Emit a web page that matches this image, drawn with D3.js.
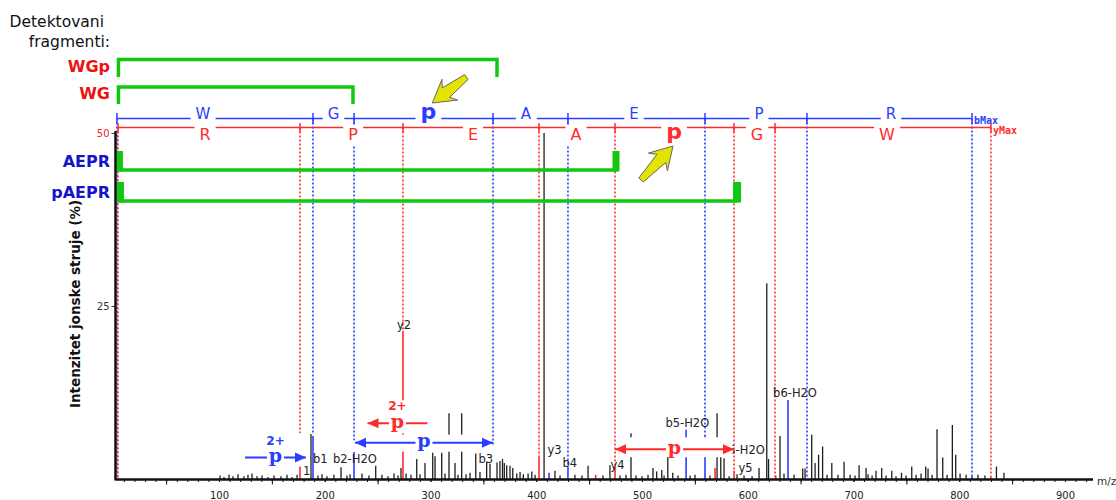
<!DOCTYPE html>
<html><head><meta charset="utf-8">
<script src="https://cdn.jsdelivr.net/npm/d3@7"></script>
<style>body{margin:0;background:#fff;}svg{display:block;}</style>
</head><body>
<svg id="chart" width="1116" height="500"></svg>
<script>
// ---------------- DATA ----------------
const xTickValues = [100,200,300,400,500,600,700,800,900];
const yTickValues = [25,50];
// [m/z, intensity %, ion type]  k = unassigned, b = b-ion, y = y-ion
const peaks = [
[101.0,0.5,'k'],[104.7,0.3,'k'],[109.5,0.6,'k'],[113.2,0.4,'k'],[118.0,0.7,'k'],[123.6,0.4,'k'],[127.4,0.6,'k'],[131.2,0.8,'k'],[135.9,0.4,'k'],[140.7,0.5,'k'],[146.3,0.3,'k'],[152.0,0.5,'k'],[158.6,0.4,'k'],[164.3,0.6,'k'],[169.0,0.3,'k'],[173.8,0.6,'k'],
[176.6,1.9,'y'],[187.0,6.5,'k'],[188.9,6.2,'b'],[193.6,0.5,'k'],[197.4,0.7,'k'],[202.1,0.4,'k'],[208.7,0.6,'k'],[215.4,1.7,'k'],[221.0,0.5,'k'],[223.9,0.7,'k'],[227.7,3.9,'b'],
[235.2,0.8,'k'],[241.8,0.5,'k'],[248.2,1.9,'k'],[254.1,0.6,'k'],[259.8,0.4,'k'],[265.5,0.8,'k'],[269.3,0.5,'k'],[272.1,1.6,'k'],[274.0,21.4,'y'],[276.9,0.8,'k'],[281.6,0.6,'k'],[287.0,2.9,'k'],[290.1,0.7,'k'],[294.8,2.3,'k'],[302.1,3.8,'k'],[304.3,3.3,'k'],[310.6,3.8,'k'],[313.7,0.8,'k'],[317.5,9.5,'k'],[323.2,2.3,'k'],[326.0,0.6,'k'],[329.5,9.5,'k'],[333.6,0.7,'k'],[337.4,0.9,'k'],[342.8,3.7,'k'],[346.8,1.0,'k'],[353.1,2.5,'k'],[356.3,2.2,'k'],
[362.9,2.4,'k'],[365.7,2.6,'k'],[368.1,2.9,'k'],[369.8,2.3,'k'],[372.1,2.0,'k'],[375.2,1.9,'k'],[377.8,1.6,'k'],[381.6,0.8,'k'],[384.7,1.0,'k'],[387.8,0.7,'k'],[392.3,0.8,'k'],[395.8,1.1,'k'],[398.9,0.6,'k'],[402.6,3.3,'y'],[407.4,50,'k'],[412.1,0.9,'b'],[417.7,1.2,'k'],[422.5,0.5,'k'],[430.0,1.7,'b'],[436.6,0.6,'k'],[443.3,0.5,'k'],[449.0,1.9,'k'],[456.2,0.6,'y'],[463.1,0.5,'k'],[469.7,2.0,'k'],
[474.5,1.7,'y'],[479.2,0.5,'k'],[484.9,0.6,'k'],[489.6,6.6,'k'],[494.4,0.5,'k'],[500.0,0.4,'k'],[505.7,0.6,'k'],[510.4,1.6,'k'],[513.9,1.1,'k'],[518.7,1.3,'k'],[520.9,0.5,'k'],[524.4,3.9,'k'],[529.1,0.9,'k'],[534.1,0.5,'k'],[541.7,7.1,'b'],[545.5,0.5,'k'],[550.1,0.6,'k'],[559.6,6.4,'b'],[564.3,0.5,'k'],[569.1,1.6,'y'],[571.0,9.5,'k'],[574.5,3.2,'k'],[577.6,3.0,'k'],[582.4,0.4,'k'],[587.1,1.2,'y'],[589.9,0.7,'k'],[596.5,0.5,'k'],[604.1,0.4,'k'],[610.7,1.6,'k'],
[618.0,28.3,'k'],[619.7,2.9,'k'],[626.5,0.5,'y'],[630.5,6.2,'k'],[634.3,0.8,'k'],[638.1,11.4,'b'],[643.8,0.6,'k'],[652.0,1.5,'k'],[654.2,1.5,'k'],[660.5,6.4,'k'],[663.7,2.3,'k'],[667.0,3.5,'k'],[670.8,4.7,'k'],[675.0,0.6,'k'],[679.5,2.3,'k'],[685.4,0.6,'k'],[691.1,2.5,'k'],[696.8,0.6,'k'],[701.5,0.5,'k'],[705.3,2.0,'k'],[711.9,1.6,'k'],[713.8,0.7,'k'],[717.6,0.5,'k'],[721.3,1.2,'k'],[726.7,1.6,'k'],[730.8,0.5,'k'],[736.2,1.2,'k'],[740.2,0.4,'k'],[745.4,0.9,'k'],[749.7,0.5,'k'],[755.1,1.8,'k'],[759.2,0.6,'k'],[763.9,0.8,'k'],[768.3,1.8,'k'],[770.5,1.5,'k'],[774.3,0.6,'k'],
[779.0,7.2,'k'],[784.4,3.1,'k'],[788.5,0.6,'k'],[793.5,7.8,'k'],[796.7,3.5,'k'],[800.8,0.8,'k'],[806.5,0.6,'k'],[812.0,0.4,'b'],[817.7,0.6,'k'],[824.3,0.5,'k'],[830.0,0.4,'y'],[835.2,1.8,'k'],[842.3,0.9,'k']
];
// b-ion ladder (top, blue)
const bResidues = ['W','G','p','A','E','P','R'];
const bBounds   = [3.5,188.9,227.7,359.1,430.0,559.6,656.0,812.1];
const bLabelMz  = [84.9,208.3,298.0,390.3,492.5,610.6,735.5];
const bGuideEnd = [0,6.5,5.6,5.0,1.7,6.4,0.3,0.3];
// y-ion ladder (bottom, red)
const yResidues = ['R','P','E','A','p','G','W'];
const yBounds   = [4.5,176.6,274.0,402.6,474.5,587.0,625.8,830.0];
const yLabelMz  = [86.8,226.7,340.2,437.6,530.3,608.8,731.7];
const yGuideEnd = [0,6.6,21.4,3.3,1.7,1.3,0.3,0.4];
// detected fragments
const fragmentNames = ['WGp','WG','AEPR','pAEPR'];
const fragmentIon   = ['y','y','b','b'];
const fragmentEndMz = [362.9,226.7,475.9,589.9];
// peak labels
const peakLabels     = ['y2','b1','b2-H2O','b3','y3','b4','y4','b5-H2O','y5-H2O','y5','b6-H2O','1'];
const peakLabelMz    = [275.0,188.9,207.8,345.4,410.6,424.8,470.2,522.2,575.2,591.3,624.0,179.4];
const peakLabelInt   = [21.7,2.3,2.3,2.3,3.6,1.7,1.4,7.5,3.6,1.0,11.8,0.6];
const peakLabelAnchor= ['middle','start','start','start','start','start','start','start','start','start','start','start'];
// phospho-loss annotations (arrows)
const annFrom   = [124.6,297.1,228.6,474.5];
const annTo     = [182.3,240.4,359.1,587.0];
const annAt     = [3.1,8.05,5.25,4.3];
const annIon    = ['b','y','b','y'];
const annHeads  = ['end','end','both','both'];
const annCharge = ['2+','2+','',''];
const annLabel  = ['p','p','p','p'];

// ---------------- SETUP ----------------
const svg = d3.select('#chart');
const x = d3.scaleLinear().domain([2.6,926.5]).range([116,1093]);
const y = d3.scaleLinear().domain([0,50]).range([479,133]);
const C = {k:'#1e1e1e', b:'#2b3dff', y:'#ff2b2b'};
const LBL = {b:'#1414c8', y:'#ee1111'};
const GREEN = '#11c811';
const ROW_B = 118.5, ROW_Y = 127.5;
const SANS = 'DejaVu Sans';

// ---------------- GUIDES ----------------
const gGuide = svg.append('g');
gGuide.selectAll('line.gb').data(d3.zip(bBounds,bGuideEnd)).join('line').attr('class','gb')
  .attr('x1',d=>x(d[0])).attr('x2',d=>x(d[0])).attr('y1',ROW_B).attr('y2',d=>y(d[1]))
  .attr('stroke',C.b).attr('stroke-width',1.6).attr('stroke-dasharray','2,2');
gGuide.selectAll('line.gy').data(d3.zip(yBounds,yGuideEnd)).join('line').attr('class','gy')
  .attr('x1',d=>x(d[0])).attr('x2',d=>x(d[0])).attr('y1',ROW_Y).attr('y2',d=>y(d[1]))
  .attr('stroke',C.y).attr('stroke-width',1.6).attr('stroke-dasharray','2,2');

// ---------------- PEAKS ----------------
const sortedPeaks = peaks.slice().sort((a,b)=>(a[2]==='k'?0:1)-(b[2]==='k'?0:1));
svg.append('g').selectAll('line').data(sortedPeaks).join('line')
  .attr('x1',d=>x(d[0])).attr('x2',d=>x(d[0]))
  .attr('y1',y(0)).attr('y2',d=>y(Math.min(d[1],50)))
  .attr('stroke',d=>C[d[2]]).attr('stroke-width',d=>d[2]==='k'?1.3:1.6);

// peak labels
svg.append('g').selectAll('text').data(d3.range(peakLabels.length)).join('text')
  .attr('x',i=>x(peakLabelMz[i])).attr('y',i=>y(peakLabelInt[i]))
  .attr('text-anchor',i=>peakLabelAnchor[i])
  .attr('font-family',SANS).attr('font-size',11.5).attr('fill','#222')
  .text(i=>peakLabels[i]);

// ---------------- ANNOTATION ARROWS ----------------
const bandTop = [-23,-23,-8,-12], bandBot = [9,10,9,8];
const gAnn = svg.append('g');
d3.range(annFrom.length).forEach(i=>{
  const x1 = x(annFrom[i]), x2 = x(annTo[i]), yy = y(annAt[i]);
  const col = C[annIon[i]];
  const lo = Math.min(x1,x2), hi = Math.max(x1,x2);
  gAnn.append('rect').attr('x',lo+1.5).attr('width',hi-lo-3)
    .attr('y',yy+bandTop[i]).attr('height',bandBot[i]-bandTop[i]).attr('fill','#fff');
  gAnn.append('line').attr('x1',x1).attr('x2',x2).attr('y1',yy).attr('y2',yy)
    .attr('stroke',col).attr('stroke-width',2);
  const head = (tx,dir)=>{
    gAnn.append('path').attr('d',`M${tx},${yy} L${tx-dir*11},${yy-5} L${tx-dir*11},${yy+5} Z`).attr('fill',col);
  };
  const dir = x2>x1?1:-1;
  head(x2,dir);
  if(annHeads[i]==='both') head(x1,-dir);
  const mid = (x1+x2)/2;
  gAnn.append('rect').attr('x',mid-8.5).attr('width',17).attr('y',yy-4).attr('height',8).attr('fill','#fff');
  gAnn.append('text').attr('x',mid).attr('y',yy+4.5).attr('text-anchor','middle')
    .attr('font-family','DejaVu Serif').attr('font-weight','bold').attr('font-size',19)
    .attr('fill',col).text(annLabel[i]);
  if(annCharge[i]) gAnn.append('text').attr('x',mid).attr('y',yy-13).attr('text-anchor','middle')
    .attr('font-family',SANS).attr('font-weight','bold').attr('font-size',12)
    .attr('fill',col).text(annCharge[i]);
});

// ---------------- SEQUENCE LADDERS ----------------
function ladder(bounds, residues, labelMz, rowY, col, above, endText, endDy){
  const g = svg.append('g');
  g.append('line').attr('x1',x(bounds[0])).attr('x2',x(bounds[bounds.length-1]))
    .attr('y1',rowY).attr('y2',rowY).attr('stroke',col).attr('stroke-width',1.5);
  g.selectAll('line.t').data(bounds).join('line').attr('class','t')
    .attr('x1',d=>x(d)).attr('x2',d=>x(d))
    .attr('y1',rowY-(above?5.5:4.5)).attr('y2',rowY+(above?5.5:4.5))
    .attr('stroke',col).attr('stroke-width',1.5);
  residues.forEach((r,i)=>{
    const isP = r==='p';
    const t = g.append('text').attr('x',x(labelMz[i])).attr('text-anchor','middle')
      .attr('font-family',SANS).attr('fill',col)
      .attr('font-size',isP?22:(above?15:16)).attr('font-weight',isP?'bold':'normal')
      .attr('y', above ? rowY+(isP?0.5:0) : rowY+(isP?11:12))
      .text(r);
    const bb = t.node().getBBox();
    if(above){
      g.insert('rect','text').attr('x',bb.x-5).attr('width',bb.width+10)
        .attr('y',rowY-2).attr('height',4).attr('fill','#fff');
    } else {
      g.insert('rect','text').attr('x',bb.x-5).attr('width',bb.width+10)
        .attr('y',rowY-2).attr('height',bb.y+bb.height-rowY+4).attr('fill','#fff');
    }
  });
  g.append('text').attr('x',x(bounds[bounds.length-1])+2).attr('y',rowY+endDy)
    .attr('font-family','DejaVu Sans Mono').attr('font-weight','bold').attr('font-size',10)
    .attr('fill',col).text(endText);
}
ladder(bBounds,bResidues,bLabelMz,ROW_B,C.b,true,'bMax',5);
ladder(yBounds,yResidues,yLabelMz,ROW_Y,C.y,false,'yMax',6);

// ---------------- FRAGMENT BRACKETS ----------------
const gF = svg.append('g');
const fragRow = [[59.5,77],[87,104],[170,151],[201,182]];
fragmentNames.forEach((n,i)=>{
  const x0 = x(3.5)+1.5, x1 = x(fragmentEndMz[i]);
  const [ly, ty] = fragRow[i];
  if(i<2){
    gF.append('path').attr('d',`M${x0},${ty} V${ly} H${x1} V${ty}`)
      .attr('fill','none').attr('stroke',GREEN).attr('stroke-width',3.5);
    gF.append('text').attr('x',110).attr('y',ty-5).attr('text-anchor','end')
      .attr('font-family',SANS).attr('font-weight','bold').attr('font-size',16)
      .attr('fill',LBL[fragmentIon[i]]).text(n);
  } else {
    gF.append('line').attr('x1',x0).attr('x2',x1).attr('y1',ly).attr('y2',ly)
      .attr('stroke',GREEN).attr('stroke-width',3.5);
    gF.append('rect').attr('x',x0-1.5).attr('width',i===2?6:7).attr('y',ty).attr('height',ly-ty+1.5).attr('fill',GREEN);
    gF.append('rect').attr('x',x1-4).attr('width',i===2?7:8).attr('y',ty).attr('height',ly-ty+1.5).attr('fill',GREEN);
    gF.append('text').attr('x',110).attr('y',ly-3).attr('text-anchor','end')
      .attr('font-family',SANS).attr('font-weight','bold').attr('font-size',16)
      .attr('fill',LBL[fragmentIon[i]]).text(n);
  }
});
svg.append('text').attr('x',104).attr('y',27).attr('text-anchor','end')
  .attr('font-family',SANS).attr('font-size',15.5).attr('fill','#111').text('Detektovani');
svg.append('text').attr('x',110).attr('y',47).attr('text-anchor','end')
  .attr('font-family',SANS).attr('font-size',15.5).attr('fill','#111').text('fragmenti:');

// ---------------- YELLOW POINTERS ----------------
function pointer(tx,ty,sx,sy){
  const dx=tx-sx, dy=ty-sy, L=Math.hypot(dx,dy), ux=dx/L, uy=dy/L, vx=-uy, vy=ux;
  const pts=[[0,-3],[L-17,-6],[L-22,-13],[L,0],[L-22,13],[L-17,6],[0,3]]
    .map(([u,v])=>[sx+u*ux+v*vx, sy+u*uy+v*vy]);
  svg.append('path').attr('d','M'+pts.map(p=>p.join(',')).join('L')+'Z')
    .attr('fill','#e4e400').attr('stroke','#666').attr('stroke-width',1);
}
{ const px = x(bLabelMz[2]); pointer(px+4, ROW_B-15.5, px+38, ROW_B-41.5); }
{ const px = x(yLabelMz[4]); pointer(px-1, ROW_Y+18.5, px-33, ROW_Y+52.5); }

// ---------------- AXES ----------------
const gx = svg.append('g').attr('transform',`translate(0,${y(0)})`);
gx.call(d3.axisBottom(x).tickValues(d3.range(10,930,10)).tickSize(3).tickFormat(''));
gx.append('g').call(d3.axisBottom(x).tickValues(d3.range(50,930,100)).tickSize(5.5).tickFormat(''));
gx.append('g').call(d3.axisBottom(x).tickValues(xTickValues).tickSize(3).tickFormat(d3.format('d')));
gx.selectAll('.domain').remove();
gx.selectAll('.tick line').attr('stroke','#111').attr('stroke-width',1);
gx.selectAll('text').attr('y',20).attr('dy',null)
  .attr('font-family',SANS).attr('font-size',10).attr('fill','#222');
svg.append('line').attr('x1',x(2.6)).attr('x2',x(926.5)).attr('y1',y(0)+0.5).attr('y2',y(0)+0.5)
  .attr('stroke','#111').attr('stroke-width',2.5);
svg.append('text').attr('x',1097).attr('y',485).attr('font-family',SANS).attr('font-size',10.5)
  .attr('fill','#333').text('m/z');

const gy = svg.append('g').attr('transform','translate(115.5,0)');
gy.call(d3.axisLeft(y).tickValues(yTickValues).tickSize(4).tickPadding(2));
gy.select('.domain').remove();
gy.selectAll('.tick line').attr('stroke','#333');
gy.selectAll('text').attr('font-family',SANS).attr('font-size',10)
  .attr('fill',d=>d===50?'#ee2222':'#333');
svg.append('line').attr('x1',115.5).attr('x2',115.5).attr('y1',y(50)-2).attr('y2',y(0)+1.5)
  .attr('stroke','#111').attr('stroke-width',2.5);
svg.append('text').attr('transform',`translate(80,${(y(50)+y(0))/2-2}) rotate(-90)`)
  .attr('text-anchor','middle').attr('font-family',SANS).attr('font-weight','bold')
  .attr('font-size',13.5).attr('fill','#111').text('Intenzitet jonske struje (%)');
</script>
</body></html>
